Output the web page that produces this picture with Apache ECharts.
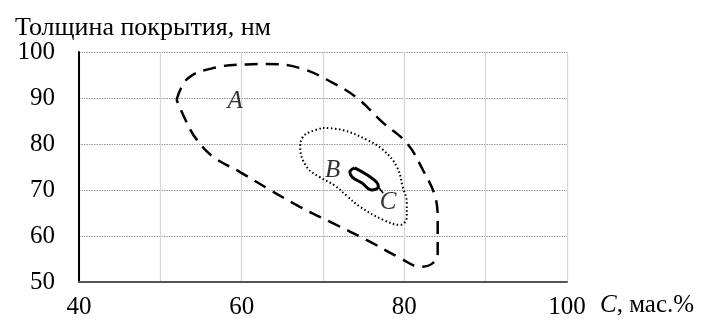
<!DOCTYPE html>
<html>
<head>
<meta charset="utf-8">
<script src="https://cdn.jsdelivr.net/npm/echarts@6/dist/echarts.min.js"></script>
<style>html,body{margin:0;padding:0;background:#fff}#c{width:702px;height:321px}</style>
</head>
<body>
<div id="c"></div>
<script>
var xTicks = [40, 60, 80, 100];
var yTicks = [50, 60, 70, 80, 90, 100];
var curveA = [[52,89.6],[53.4,94.3],[57,96.7],[60.6,97.3],[63,97.4],[67.2,96.5],[71.2,93.3],[74.2,90],[77.4,84.6],[80.3,80.2],[82.3,74.3],[83.8,68.5],[84.1,63.5],[84.1,56.3],[83.5,54.1],[82,53.3],[79.5,55.2],[75.4,59.1],[71.2,62.8],[67.2,66.3],[63.5,70],[59.8,73.9],[56.5,77.2],[54.5,80.9],[53.4,84.1],[52,89.6]];
var curveB = [[70,83.5],[72.5,83],[75.4,80.9],[77.4,78.7],[79.1,75],[79.8,70.7],[80.3,67.2],[80.3,64.1],[79.5,62.4],[77.4,63.5],[74.6,66.3],[73,68.6],[71.5,70.9],[69.6,72.8],[68,75],[67.2,79.3],[67.5,81.5],[68.4,82.6],[70,83.5]];
var curveC = [[73.9,74.8],[75.4,73.3],[76.6,71.7],[76.8,70.7],[76,70],[74.8,71.5],[73.6,72.8],[73.3,73.9],[73.9,74.8]];
var tailC = [[76.8,70.7],[77.4,69.3]];
var labels = [[59.2,89.3,'A'],[71.2,74.3,'B'],[78,67.4,'C']];
var serif = 'Liberation Serif';

var chart = echarts.init(document.getElementById('c'));
chart.setOption({
  animation: false,
  title: {
    text: 'Толщина покрытия, нм', left: 10, top: 10,
    textStyle: {fontFamily: serif, fontSize: 26, fontWeight: 'normal', color: '#000'}
  },
  grid: {left: 79, top: 52, right: 135, bottom: 39},
  xAxis: {
    type: 'value', min: 40, max: 100, interval: 10,
    name: '{i|C}, мас.%', nameLocation: 'end', nameGap: 33,
    nameTextStyle: {fontFamily: serif, fontSize: 25, color: '#000', verticalAlign: 'middle', padding: [46,0,0,0],
      rich: {i: {fontFamily: serif, fontSize: 25, fontStyle: 'italic', color: '#000'}}},
    axisLine: {lineStyle: {color: '#555', width: 2}},
    axisTick: {show: false},
    axisLabel: {fontFamily: serif, fontSize: 25, color: '#000', margin: 13,
      formatter: function (v) { return xTicks.indexOf(v) >= 0 ? String(v) : ''; }},
    splitLine: {show: true, lineStyle: {color: '#d6d6d6', width: 1.2}}
  },
  yAxis: {
    type: 'value', min: 50, max: 100, interval: 10,
    axisLine: {show: true, lineStyle: {color: '#000', width: 2}},
    axisTick: {show: false},
    axisLabel: {fontFamily: serif, fontSize: 25, color: '#000', margin: 24,
      formatter: function (v) { return yTicks.indexOf(v) >= 0 ? String(v) : ''; }},
    splitLine: {show: true, lineStyle: {color: '#9a9a9a', width: 1.2, type: [1.5, 1]}}
  },
  series: [
    {type: 'line', data: curveA, smooth: 0.4, showSymbol: false, silent: true,
      lineStyle: {color: '#000', width: 2.5, type: [13, 8]}},
    {type: 'line', data: curveB, smooth: 0.4, showSymbol: false, silent: true,
      lineStyle: {color: '#000', width: 2, type: [1.5, 2.5]}},
    {type: 'line', data: curveC, smooth: 0.4, showSymbol: false, silent: true,
      lineStyle: {color: '#000', width: 3}},
    {type: 'line', data: tailC, showSymbol: false, silent: true,
      lineStyle: {color: '#000', width: 1.5}},
    {type: 'scatter', symbolSize: 0, silent: true,
      data: labels.map(function (l) { return {value: [l[0], l[1]], name: l[2]}; }),
      label: {show: true, position: 'inside', formatter: function (p) { return p.name; },
        fontFamily: serif, fontSize: 25, fontStyle: 'italic', color: '#000'}}
  ]
});
</script>
</body>
</html>
